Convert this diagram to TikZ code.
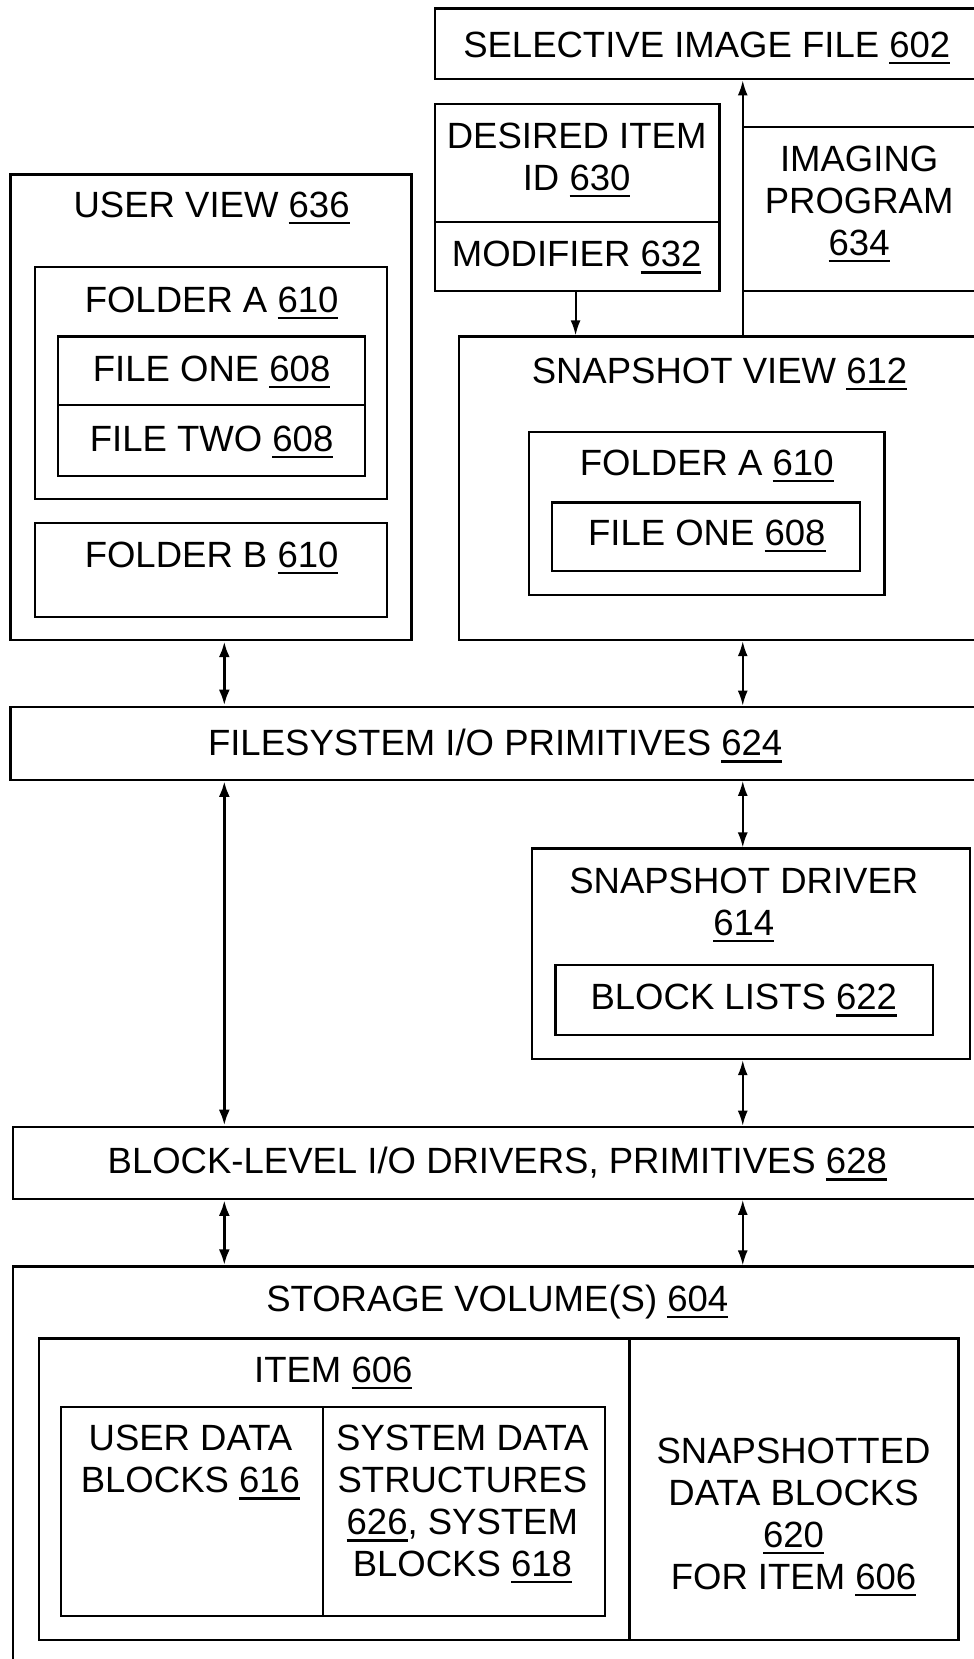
\documentclass[tikz,border=0pt]{standalone}
\usepackage{fontspec}
\setmainfont{Liberation Sans}
\usetikzlibrary{fit,arrows.meta}
\newcommand\un[1]{\setbox0=\hbox{#1}\rlap{\rule[-7pt]{\wd0}{2.5pt}}\box0}
\begin{document}
\begin{tikzpicture}[x=1.0576pt,y=-1.0576pt,
  box/.style={draw,line width=2.2pt,inner sep=0pt},
  txt/.style={inner sep=0pt,anchor=north,align=center,font=\fontsize{36.5}{41.8}\selectfont},
  thinar/.style={line width=2pt,{Latex[length=15pt,width=10pt]}-{Latex[length=15pt,width=10pt]}},
  thickar/.style={line width=3.5pt,{Latex[length=16pt,width=11pt]}-{Latex[length=16pt,width=11pt]}},
  onear/.style={line width=2pt,-{Latex[length=15pt,width=10pt]}}]
\useasboundingbox (0,0) rectangle (920,1568);
% top right
\node[box,fit={(411,8) (935,75)}] (sif) {};
\node[txt] (sift) at (668,30) {SELECTIVE IMAGE FILE \un{602}};
\node[box,fit={(411,98) (680,210)}] (did) {};
\node[txt] (didt) at (545,116) {DESIRED ITEM\\ID \un{630}};
\node[box,fit={(411,210) (680,275)}] (mod) {};
\node[txt] (modt) at (545,228) {MODIFIER \un{632}};
\node[box,fit={(702,120) (935,275)}] (img) {};
\node[txt] (imgt) at (812,138) {IMAGING\\PROGRAM\\\un{634}};
% snapshot view
\node[box,fit={(434,318) (935,605)}] (sv) {};
\node[txt] (svt) at (680,338) {SNAPSHOT VIEW \un{612}};
\node[box,fit={(500,408) (836,562)}] (sfa) {};
\node[txt] (sfat) at (668,425) {FOLDER A \un{610}};
\node[box,fit={(522,475) (813,540)}] (sf1) {};
\node[txt] (sf1t) at (668,491) {FILE ONE \un{608}};
% user view
\node[box,fit={(10,165) (389,605)}] (uv) {};
\node[txt] (uvt) at (200,181) {USER VIEW \un{636}};
\node[box,fit={(33,252) (366,472)}] (ufa) {};
\node[txt] (ufat) at (200,271) {FOLDER A \un{610}};
\node[box,fit={(55,318) (345,383)}] (uf1) {};
\node[txt] (uf1t) at (200,336) {FILE ONE \un{608}};
\node[box,fit={(55,383) (345,450)}] (uf2) {};
\node[txt] (uf2t) at (200,402) {FILE TWO \un{608}};
\node[box,fit={(33,494) (366,583)}] (ufb) {};
\node[txt] (ufbt) at (200,512) {FOLDER B \un{610}};
% filesystem
\node[box,fit={(10,668) (935,737)}] (fs) {};
\node[txt] (fst) at (468,689) {FILESYSTEM I/O PRIMITIVES \un{624}};
% snapshot driver
\node[box,fit={(503,802) (917,1001)}] (drv) {};
\node[txt] (drvt) at (703,820) {SNAPSHOT DRIVER\\\un{614}};
\node[box,fit={(525,912) (882,978)}] (bls) {};
\node[txt] (blst) at (703,930) {BLOCK LISTS \un{622}};
% block level
\node[box,fit={(12,1065) (935,1133)}] (bl) {};
\node[txt] (blt) at (470,1084) {BLOCK-LEVEL I/O DRIVERS, PRIMITIVES \un{628}};
% storage
\node[box,fit={(12,1197) (935,1600)}] (st) {};
\node[txt] (stt) at (470,1214) {STORAGE VOLUME(S) \un{604}};
\node[box,fit={(37,1265) (595,1550)}] (item) {};
\node[txt] (itemt) at (315,1282) {ITEM \un{606}};
\node[box,fit={(595,1265) (906,1550)}] (sdb) {};
\node[txt] (sdbt) at (750,1359) {SNAPSHOTTED\\DATA BLOCKS\\\un{620}\\FOR ITEM \un{606}};
\node[box,fit={(58,1330) (305,1527)}] (udb) {};
\node[txt] (udbt) at (180,1347) {USER DATA\\BLOCKS \un{616}};
\node[box,fit={(305,1330) (572,1527)}] (sys) {};
\node[txt] (syst) at (437,1347) {SYSTEM DATA\\STRUCTURES\\\un{626}, SYSTEM\\BLOCKS \un{618}};
% connectors
\coordinate (xL) at (212,0);
\coordinate (xR) at (702,0);
\coordinate (xM) at (544,0);
\draw[onear] (sv.north -| xR) -- (sif.south -| xR);
\draw[onear] (mod.south -| xM) -- (sv.north -| xM);
\draw[thickar] (uv.south -| xL) -- (fs.north -| xL);
\draw[thinar] (sv.south -| xR) -- (fs.north -| xR);
\draw[thickar] (fs.south -| xL) -- (bl.north -| xL);
\draw[thinar] (fs.south -| xR) -- (drv.north -| xR);
\draw[thinar] (drv.south -| xR) -- (bl.north -| xR);
\draw[thickar] (bl.south -| xL) -- (st.north -| xL);
\draw[thinar] (bl.south -| xR) -- (st.north -| xR);
\end{tikzpicture}
\end{document}
